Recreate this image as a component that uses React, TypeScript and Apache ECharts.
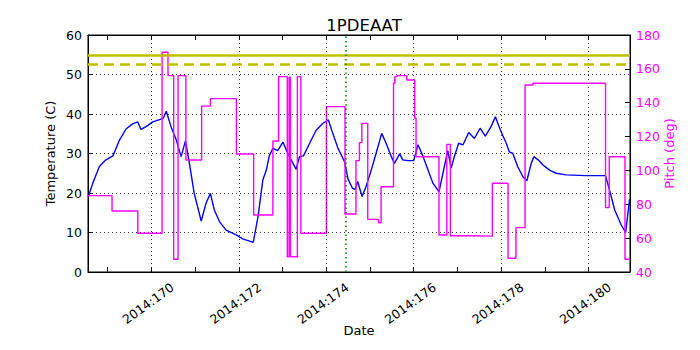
import React, { useEffect, useRef } from "react";
import * as echarts from "echarts";

// ---- Data (day-of-year 2014, values) ----
const tempDays = [
  168.56, 168.66, 168.81, 168.96, 169.12, 169.27, 169.42, 169.57, 169.69, 169.76,
  169.88, 170.03, 170.22, 170.28, 170.34, 170.45, 170.57, 170.68, 170.78, 170.87,
  170.98, 171.14, 171.25, 171.35, 171.44, 171.56, 171.71, 171.94, 172.09, 172.33,
  172.44, 172.55, 172.63, 172.70, 172.78, 172.89, 173.01, 173.12, 173.24, 173.31,
  173.39, 173.48, 173.62, 173.77, 173.92, 174.05, 174.15, 174.27, 174.42, 174.50,
  174.60, 174.66, 174.72, 174.82, 174.91, 175.03, 175.14, 175.27, 175.37, 175.49,
  175.56, 175.68, 175.75, 175.87, 176.00, 176.10, 176.21, 176.33, 176.44, 176.58,
  176.67, 176.78, 176.86, 176.93, 177.03, 177.13, 177.26, 177.39, 177.52, 177.64,
  177.77, 177.87, 178.00, 178.12, 178.19, 178.27, 178.38, 178.50, 178.59, 178.69,
  178.75, 178.85, 178.96, 179.11, 179.26, 179.49, 179.95, 180.39, 180.48, 180.60,
  180.75, 180.85, 180.94,
];
const tempValues = [
  19.2, 22.5, 26.7, 28.4, 29.4, 33.4, 36.2, 37.5, 38.0, 36.1,
  36.8, 38.0, 38.7, 39.1, 40.7, 36.8, 33.4, 29.2, 33.2, 27.5,
  19.9, 12.9, 17.4, 19.9, 15.7, 12.7, 10.6, 9.4, 8.4, 7.5,
  14.0, 23.3, 25.8, 29.5, 31.3, 30.7, 32.9, 30.0, 27.5, 26.0,
  29.2, 29.4, 32.6, 35.9, 37.6, 38.5, 35.1, 31.3, 27.9, 23.5,
  21.2, 20.9, 22.9, 19.1, 21.6, 25.8, 30.0, 35.1, 32.6, 29.2,
  27.5, 29.9, 28.4, 28.2, 28.2, 32.2, 29.4, 25.8, 22.5, 20.3,
  25.0, 30.7, 26.3, 29.2, 32.6, 32.2, 35.3, 33.8, 36.4, 34.4,
  36.8, 39.3, 35.5, 32.6, 30.4, 30.0, 26.7, 24.1, 23.1, 27.5,
  29.2, 28.4, 27.1, 25.8, 25.0, 24.6, 24.4, 24.4, 20.8, 15.7,
  11.9, 10.0, 18.4,
];

const pitchDays = [
  168.55, 169.10, 169.69, 170.245, 170.38, 170.51, 170.61, 170.79, 171.15, 171.35,
  171.945, 172.34, 172.78, 172.91, 173.11, 173.15, 173.18, 173.34, 173.42, 174.005,
  174.43, 174.68, 174.76, 174.815, 174.95, 175.195, 175.255, 175.54, 175.57, 175.62,
  175.845, 176.025, 176.055, 176.58, 176.76, 176.84, 177.30, 177.80, 178.16, 178.34,
  178.55, 178.73, 180.39, 180.475, 180.835, 180.95,
];
const pitchValues = [
  85.1, 76.0, 62.9, 169.8, 156.0, 47.5, 156.0, 106.2, 138.0, 142.4,
  109.7, 73.7, 117.4, 155.4, 49.0, 155.0, 49.0, 155.4, 62.9, 137.7,
  74.3, 105.8, 116.4, 127.8, 71.1, 69.1, 90.4, 151.5, 155.4, 156.0,
  153.4, 130.8, 108.1, 61.9, 115.4, 61.4, 61.2, 92.4, 48.1, 66.2,
  150.5, 151.5, 78.0, 108.1, 47.5, 47.5,
];

const X_MIN = 168.55;
const X_MAX = 180.95;
const dayTicks = [169, 170, 171, 172, 173, 174, 175, 176, 177, 178, 179, 180];
const labelDays = [170, 172, 174, 176, 178, 180];
const planningLimit = 55;
const cautionLimit = 52.5;
const markerDay = 174.44;

const FONT = "DejaVu Sans";

export default function App() {
  const ref = useRef<HTMLDivElement>(null);

  useEffect(() => {
    if (!ref.current) return;
    const chart = echarts.init(ref.current, null, { renderer: "svg" });

    const tempData = tempDays.map((d, i) => [d, tempValues[i]]);
    const pitchData = pitchDays.map((d, i) => [d, pitchValues[i]]);

    const gridDots = { color: "#000", width: 0.8, type: [1, 3] as number[] };

    const option: any = {
      animation: false,
      backgroundColor: "#fff",
      textStyle: { fontFamily: FONT },
      title: {
        text: "1PDEAAT",
        left: 359,
        top: 12,
        textAlign: "center",
        textStyle: { fontSize: 16.5, fontWeight: "normal", color: "#000", fontFamily: FONT },
      },
      grid: {
        left: 88,
        right: 70,
        top: 35,
        bottom: 78,
        show: true,
        borderColor: "#000",
        borderWidth: 1,
        containLabel: false,
        outerBoundsMode: "none",
      },
      xAxis: [
        {
          type: "value",
          position: "bottom",
          min: X_MIN,
          max: X_MAX,
          name: "Date",
          nameLocation: "middle",
          nameGap: 52,
          nameMoveOverlap: false,
          nameTextStyle: { fontSize: 13, color: "#000", fontFamily: FONT },
          axisLine: { show: true, onZero: false, lineStyle: { color: "#000", width: 1 } },
          axisTick: { show: true, inside: true, length: 5, customValues: dayTicks, lineStyle: { color: "#000" } },
          axisLabel: {
            customValues: labelDays,
            formatter: (v: number) => `2014:${v}`,
            rotate: 36,
            align: "center",
            verticalAlign: "middle",
            margin: 29,
            padding: [0, 8, 0, 0],
            fontSize: 12.5,
            color: "#000",
            fontFamily: FONT,
            hideOverlap: false,
          },
          splitLine: { show: false },
        },
        {
          type: "value",
          position: "top",
          min: X_MIN,
          max: X_MAX,
          axisLine: { show: true, onZero: false, lineStyle: { color: "#000", width: 1 } },
          axisTick: { show: true, inside: true, length: 5, customValues: dayTicks, lineStyle: { color: "#000" } },
          axisLabel: { show: false },
          splitLine: { show: false },
        },
      ],
      yAxis: [
        {
          type: "value",
          position: "left",
          min: 0,
          max: 60,
          interval: 10,
          name: "Temperature (C)",
          nameLocation: "middle",
          nameGap: 31,
          nameRotate: 90,
          nameMoveOverlap: false,
          nameTextStyle: { fontSize: 13, color: "#000", fontFamily: FONT },
          axisLine: { show: true, onZero: false, lineStyle: { color: "#000", width: 1 } },
          axisTick: { show: true, inside: true, length: 5, lineStyle: { color: "#000" } },
          axisLabel: { margin: 6, fontSize: 12.5, color: "#000", fontFamily: FONT },
          splitLine: { show: true, lineStyle: gridDots },
        },
        {
          type: "value",
          position: "right",
          min: 40,
          max: 180,
          interval: 20,
          name: "Pitch (deg)",
          nameLocation: "middle",
          nameGap: 33,
          nameRotate: 90,
          nameMoveOverlap: false,
          nameTextStyle: { fontSize: 13, color: "#ff00ff", fontFamily: FONT },
          axisLine: { show: true, onZero: false, lineStyle: { color: "#000", width: 1 } },
          axisTick: { show: true, inside: true, length: 5, lineStyle: { color: "#000" } },
          axisLabel: { margin: 6, fontSize: 12.5, color: "#ff00ff", fontFamily: FONT },
          splitLine: { show: false },
        },
      ],
      series: [
        {
          name: "grid",
          type: "line",
          data: [],
          z: 1,
          silent: true,
          markLine: {
            silent: true,
            symbol: ["none", "none"],
            label: { show: false },
            lineStyle: gridDots,
            emphasis: { disabled: true },
            data: labelDays.map((d) => ({ xAxis: d })),
          },
        },
        {
          name: "limits",
          type: "line",
          data: [],
          z: 2,
          silent: true,
          markLine: {
            silent: true,
            symbol: ["none", "none"],
            label: { show: false },
            emphasis: { disabled: true },
            data: [
              { yAxis: planningLimit, lineStyle: { color: "#bfbf00", width: 2.5, type: "solid" } },
              { yAxis: cautionLimit, lineStyle: { color: "#bfbf00", width: 2.5, type: [10, 6] } },
              { xAxis: markerDay, lineStyle: { color: "#008000", width: 1.5, type: [1.5, 3] } },
            ],
          },
        },
        {
          name: "Temperature",
          type: "line",
          xAxisIndex: 0,
          yAxisIndex: 0,
          data: tempData,
          showSymbol: false,
          z: 3,
          lineStyle: { color: "#0000ff", width: 1.4 },
          itemStyle: { color: "#0000ff" },
          emphasis: { disabled: true },
        },
        {
          name: "Pitch",
          type: "line",
          xAxisIndex: 0,
          yAxisIndex: 1,
          step: "end",
          data: pitchData,
          showSymbol: false,
          z: 4,
          lineStyle: { color: "#ff00ff", width: 1.4 },
          itemStyle: { color: "#ff00ff" },
          emphasis: { disabled: true },
        },
      ],
    };

    chart.setOption(option);
    return () => chart.dispose();
  }, []);

  return (
    <div
      ref={ref}
      style={{ position: "fixed", left: 0, top: 0, width: 700, height: 350, background: "#fff" }}
    />
  );
}
